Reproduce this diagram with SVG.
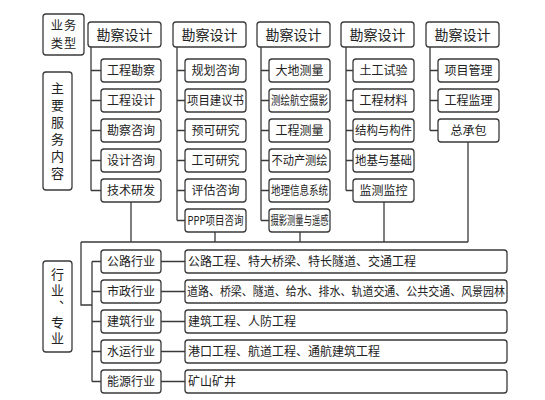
<svg xmlns="http://www.w3.org/2000/svg" width="545" height="400" viewBox="0 0 545 400">
<style>
rect{fill:#fff;stroke:#3a3a3a;stroke-width:1.3}
.c path,.c line{fill:none;stroke:#3a3a3a;stroke-width:1.3}
text{font-family:"Noto Sans CJK SC","Noto Sans",sans-serif;fill:#222}
.h{font-size:14px;text-anchor:middle}
.i{font-size:12px;text-anchor:middle}
.d{font-size:12px}
.v{font-size:12.2px;text-anchor:middle;letter-spacing:1px}
.w{font-size:13px;text-anchor:middle;writing-mode:vertical-rl}
</style>
<rect x="0" y="0" width="545" height="400" style="fill:#fff;stroke:none"/>
<g class="c" id="connectors">
<path d="M91 47V190.5M91 70.5H101M91 100.5H101M91 130.5H101M91 160.5H101M91 190.5H101"/>
<path d="M177 47V220.5M177 70.5H185M177 100.5H185M177 130.5H185M177 160.5H185M177 190.5H185M177 220.5H185"/>
<path d="M261 47V220.5M261 70.5H269M261 100.5H269M261 130.5H269M261 160.5H269M261 190.5H269M261 220.5H269"/>
<path d="M346 47V190.5M346 70.5H353M346 100.5H353M346 130.5H353M346 160.5H353M346 190.5H353"/>
<path d="M430 47V130.5M430 70.5H438M430 100.5H438M430 130.5H438"/>
<path d="M131 202V242M215 232V242M300 232V242M384 202V242M468 142V242M81 242H468M81 242V305H92"/>
<path d="M92 261.5V381.5M92 261.5H101M92 291.5H101M92 321.5H101M92 351.5H101M92 381.5H101"/>
<path d="M161 261.5H185M161 291.5H185M161 321.5H185M161 351.5H185M161 381.5H185"/>
</g>
<g id="label-type"><rect x="43" y="14" width="41" height="41" rx="3"/><text class="v" x="64" y="30">业务</text><text class="v" x="64" y="48">类型</text></g>
<g id="label-service"><rect x="43" y="72" width="29" height="118" rx="3"/>
<text class="w" x="57.5" y="133" letter-spacing="4">主要服务内容</text></g>
<g id="label-industry"><rect x="43" y="261" width="29" height="91" rx="3"/>
<text class="w" x="57.5" y="308" letter-spacing="3">行业、专业</text></g>

<g id="col1">
<rect x="88" y="22" width="73" height="25" rx="3"/><text class="h" x="124.5" y="39.5">勘察设计</text>
<rect x="101" y="59" width="60" height="23" rx="3"/><text class="i" x="131" y="75">工程勘察</text>
<rect x="101" y="89" width="60" height="23" rx="3"/><text class="i" x="131" y="105">工程设计</text>
<rect x="101" y="119" width="60" height="23" rx="3"/><text class="i" x="131" y="135">勘察咨询</text>
<rect x="101" y="149" width="60" height="23" rx="3"/><text class="i" x="131" y="165">设计咨询</text>
<rect x="101" y="179" width="60" height="23" rx="3"/><text class="i" x="131" y="195">技术研发</text>
</g>
<g id="col2">
<rect x="173" y="22" width="73" height="25" rx="3"/><text class="h" x="209.5" y="39.5">勘察设计</text>
<rect x="185" y="59" width="61" height="23" rx="3"/><text class="i" x="215.5" y="75">规划咨询</text>
<rect x="185" y="89" width="61" height="23" rx="3"/><text class="i" x="215.5" y="105" textLength="57" lengthAdjust="spacingAndGlyphs">项目建议书</text>
<rect x="185" y="119" width="61" height="23" rx="3"/><text class="i" x="215.5" y="135">预可研究</text>
<rect x="185" y="149" width="61" height="23" rx="3"/><text class="i" x="215.5" y="165">工可研究</text>
<rect x="185" y="179" width="61" height="23" rx="3"/><text class="i" x="215.5" y="195">评估咨询</text>
<rect x="185" y="209" width="61" height="23" rx="3"/><text class="i" x="215.5" y="225" textLength="56" lengthAdjust="spacingAndGlyphs">PPP项目咨询</text>
</g>
<g id="col3">
<rect x="257" y="22" width="73" height="25" rx="3"/><text class="h" x="293.5" y="39.5">勘察设计</text>
<rect x="269" y="59" width="61" height="23" rx="3"/><text class="i" x="299.5" y="75">大地测量</text>
<rect x="269" y="89" width="61" height="23" rx="3"/><text class="i" x="299.5" y="105" textLength="57" lengthAdjust="spacingAndGlyphs">测绘航空摄影</text>
<rect x="269" y="119" width="61" height="23" rx="3"/><text class="i" x="299.5" y="135">工程测量</text>
<rect x="269" y="149" width="61" height="23" rx="3"/><text class="i" x="299.5" y="165" textLength="56" lengthAdjust="spacingAndGlyphs">不动产测绘</text>
<rect x="269" y="179" width="61" height="23" rx="3"/><text class="i" x="299.5" y="195" textLength="57" lengthAdjust="spacingAndGlyphs">地理信息系统</text>
<rect x="269" y="209" width="61" height="23" rx="3"/><text class="i" x="299.5" y="225" textLength="58" lengthAdjust="spacingAndGlyphs">摄影测量与遥感</text>
</g>
<g id="col4">
<rect x="341" y="22" width="73" height="25" rx="3"/><text class="h" x="377.5" y="39.5">勘察设计</text>
<rect x="353" y="59" width="61" height="23" rx="3"/><text class="i" x="383.5" y="75">土工试验</text>
<rect x="353" y="89" width="61" height="23" rx="3"/><text class="i" x="383.5" y="105">工程材料</text>
<rect x="353" y="119" width="61" height="23" rx="3"/><text class="i" x="383.5" y="135" textLength="57" lengthAdjust="spacingAndGlyphs">结构与构件</text>
<rect x="353" y="149" width="61" height="23" rx="3"/><text class="i" x="383.5" y="165" textLength="57" lengthAdjust="spacingAndGlyphs">地基与基础</text>
<rect x="353" y="179" width="61" height="23" rx="3"/><text class="i" x="383.5" y="195">监测监控</text>
</g>
<g id="col5">
<rect x="426" y="22" width="73" height="25" rx="3"/><text class="h" x="462.5" y="39.5">勘察设计</text>
<rect x="438" y="59" width="61" height="23" rx="3"/><text class="i" x="468.5" y="75">项目管理</text>
<rect x="438" y="89" width="61" height="23" rx="3"/><text class="i" x="468.5" y="105">工程监理</text>
<rect x="438" y="119" width="61" height="23" rx="3"/><text class="i" x="468.5" y="135">总承包</text>
</g>

<g id="ind1"><rect x="101" y="250" width="60" height="23" rx="3"/><text class="i" x="131" y="266">公路行业</text>
<rect x="185" y="250" width="322" height="23" rx="3"/><text class="d" x="188" y="266">公路工程、特大桥梁、特长隧道、交通工程</text></g>
<g id="ind2"><rect x="101" y="280" width="60" height="23" rx="3"/><text class="i" x="131" y="296">市政行业</text>
<rect x="185" y="280" width="322" height="23" rx="3"/><text class="d" x="187" y="296" textLength="318" lengthAdjust="spacingAndGlyphs">道路、桥梁、隧道、给水、排水、轨道交通、公共交通、风景园林</text></g>
<g id="ind3"><rect x="101" y="310" width="60" height="23" rx="3"/><text class="i" x="131" y="326">建筑行业</text>
<rect x="185" y="310" width="322" height="23" rx="3"/><text class="d" x="188" y="326">建筑工程、人防工程</text></g>
<g id="ind4"><rect x="101" y="340" width="60" height="23" rx="3"/><text class="i" x="131" y="356">水运行业</text>
<rect x="185" y="340" width="322" height="23" rx="3"/><text class="d" x="188" y="356">港口工程、航道工程、通航建筑工程</text></g>
<g id="ind5"><rect x="101" y="370" width="60" height="23" rx="3"/><text class="i" x="131" y="386">能源行业</text>
<rect x="185" y="370" width="322" height="23" rx="3"/><text class="d" x="188" y="386">矿山矿井</text></g>
</svg>
